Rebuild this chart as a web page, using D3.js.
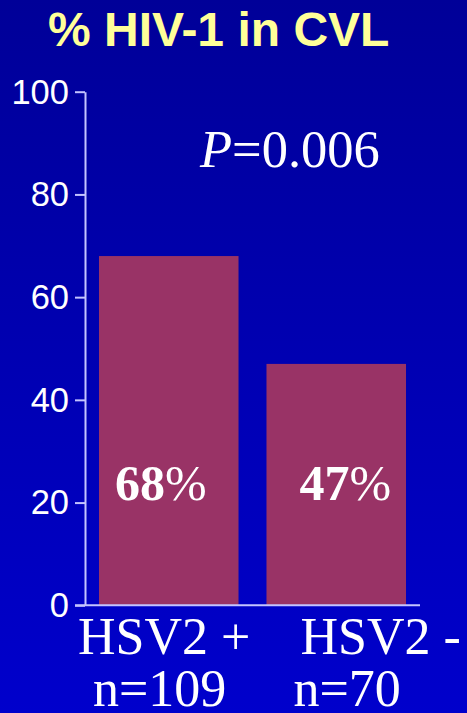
<!DOCTYPE html>
<html>
<head>
<meta charset="utf-8">
<script src="https://cdn.jsdelivr.net/npm/d3@7"></script>
<style>
  html, body { margin: 0; padding: 0; background: #0000b0; }
  svg { display: block; }
</style>
</head>
<body>
<svg id="chart" width="467" height="713"></svg>
<script>
// Data
const categories = ["HSV2 +", "HSV2 -"];
const sampleSizes = ["n=109", "n=70"];
const percentHIV = [68, 47];
const yTicks = [0, 20, 40, 60, 80, 100];
const pValueLabel = "0.006";

const W = 467, H = 713;
const svg = d3.select("#chart");

// Background gradient
const defs = svg.append("defs");
const grad = defs.append("linearGradient")
  .attr("id", "bg").attr("x1", 0).attr("y1", 0).attr("x2", 0).attr("y2", 1);
grad.append("stop").attr("offset", "0%").attr("stop-color", "#000098");
grad.append("stop").attr("offset", "100%").attr("stop-color", "#0000cc");
svg.append("rect").attr("width", W).attr("height", H).attr("fill", "url(#bg)");

// Scales
const x = d3.scaleBand()
  .domain(categories)
  .range([85, 420])
  .paddingInner(0.167)
  .paddingOuter(0.0835);

const y = d3.scaleLinear().domain([0, 100]).range([605.3, 91.7]);

// Title
svg.append("text")
  .attr("x", 48).attr("y", 45.5)
  .attr("font-family", "'Liberation Sans', Arial, sans-serif")
  .attr("font-weight", "bold")
  .attr("font-size", 48)
  .attr("fill", "#ffff99")
  .text("% HIV-1 in CVL");

// Bars
svg.append("g").selectAll("rect")
  .data(categories)
  .join("rect")
  .attr("x", d => x(d))
  .attr("width", x.bandwidth())
  .attr("y", (d, i) => y(percentHIV[i]))
  .attr("height", (d, i) => y(0) - y(percentHIV[i]))
  .attr("fill", "#993366");

// Y axis
const axisColor = "#c4c4ff";
const yAxis = svg.append("g")
  .attr("transform", "translate(85,0)")
  .call(d3.axisLeft(y).tickValues(yTicks).tickSize(10).tickSizeOuter(0).tickPadding(6));
yAxis.select(".domain").attr("stroke", axisColor).attr("stroke-width", 2);
yAxis.selectAll(".tick line").attr("stroke", axisColor).attr("stroke-width", 2);
yAxis.selectAll(".tick text")
  .attr("fill", "#ffffff")
  .attr("font-family", "'Liberation Sans', Arial, sans-serif")
  .attr("font-size", 34.5)
  .attr("dy", "0.33em");

// X axis baseline
svg.append("line")
  .attr("x1", 75).attr("x2", 420)
  .attr("y1", y(0)).attr("y2", y(0))
  .attr("stroke", axisColor).attr("stroke-width", 2);

// Category labels
const serif = "'Liberation Serif', 'Times New Roman', serif";
const catOffsets = [-21, 34];
const nOffsets = [-6, 27];
svg.append("g").selectAll("text")
  .data(categories)
  .join("text")
  .attr("x", (d, i) => x(d) + catOffsets[i])
  .attr("y", 654)
  .attr("font-family", serif)
  .attr("font-size", 52)
  .attr("fill", "#ffffff")
  .text(d => d);

svg.append("g").selectAll("text")
  .data(sampleSizes)
  .join("text")
  .attr("x", (d, i) => x(categories[i]) + nOffsets[i])
  .attr("y", 706)
  .attr("font-family", serif)
  .attr("font-size", 52)
  .attr("fill", "#ffffff")
  .text(d => d);

// Value labels inside bars
const valOffsets = [16, 33];
const vl = svg.append("g").selectAll("text")
  .data(categories)
  .join("text")
  .attr("x", (d, i) => x(d) + valOffsets[i])
  .attr("y", 500)
  .attr("font-family", serif)
  .attr("font-size", 50)
  .attr("fill", "#ffffff");
vl.append("tspan").attr("font-weight", "bold").text((d, i) => percentHIV[i]);
vl.append("tspan").text("%");

// P-value annotation
const pt = svg.append("text")
  .attr("x", 200).attr("y", 166.5)
  .attr("font-family", serif)
  .attr("font-size", 52.5)
  .attr("fill", "#ffffff");
pt.append("tspan").attr("font-style", "italic").text("P");
pt.append("tspan").text("=" + pValueLabel);
</script>
</body>
</html>
